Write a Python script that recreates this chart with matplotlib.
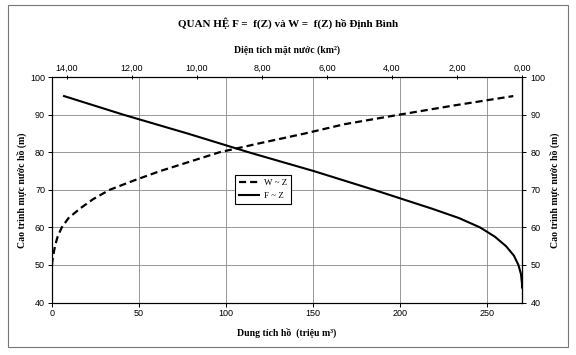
import numpy as np
import matplotlib
matplotlib.use("Agg")
import matplotlib.pyplot as plt
from matplotlib.patches import Rectangle
from matplotlib.ticker import FuncFormatter

# W ~ Z : dung tich ho (trieu m3) theo cao trinh
z_w = [50, 51, 52, 55, 57.5, 60, 62.5, 65, 67.5, 70, 72.5, 75, 77.5, 80, 82.5, 85, 87.5, 90, 92.5, 95]
w = [0, 0.2, 0.5, 1.7, 3.2, 5.6, 9.5, 16, 23.5, 33, 47, 62, 79, 96, 120, 145, 168, 199, 231, 265]

# F ~ Z : dien tich mat nuoc (km2) theo cao trinh
z_f = [44, 45, 47.5, 50, 52.5, 55, 57.5, 60, 62.5, 65, 70, 75, 80, 85, 90, 95]
f = [0.0, 0.0, 0.03, 0.11, 0.25, 0.49, 0.83, 1.29, 1.94, 2.77, 4.55, 6.40, 8.40, 10.28, 12.25, 14.09]

w_ticks = [0, 50, 100, 150, 200, 250]
f_ticks = [0, 2, 4, 6, 8, 10, 12, 14]
z_ticks = [40, 50, 60, 70, 80, 90, 100]

serif = "Liberation Serif"
sans = "Liberation Sans"
plt.rcParams["font.family"] = sans

fig = plt.figure(figsize=(5.76, 3.55), dpi=100)
fig.patches.append(Rectangle((8 / 576, 1 - 347 / 355), 560 / 576, 342 / 355,
                             transform=fig.transFigure, fill=False,
                             edgecolor="#777777", lw=0.8))

ax = fig.add_axes([52 / 576, 1 - 302.5 / 355, 470 / 576, 225.2 / 355])
ax.set_xlim(0, 270)
ax.set_ylim(40, 100)
ax.set_xticks(w_ticks)
ax.set_yticks(z_ticks)
ax.grid(True, color="#888888", lw=0.6)
ax.set_axisbelow(True)
ax.tick_params(labelsize=6.5, length=3, width=0.7, color="black", pad=2)
for s in ax.spines.values():
    s.set_color("black")
    s.set_linewidth(0.8)

lw_line, = ax.plot(w, z_w, color="black", lw=1.6, ls=(0, (3.2, 1.8)), label="W ~ Z")

ax2 = ax.twiny()
ax2.set_xlim(14.46, 0)
ax2.set_xticks(f_ticks)
ax2.xaxis.set_major_formatter(FuncFormatter(lambda v, p: f"{v:.2f}".replace(".", ",")))
ax2.tick_params(labelsize=6.5, length=3, width=0.7, pad=2, direction="inout")
lf_line, = ax2.plot(f, z_f, color="black", lw=1.5, label="F ~ Z")

ax3 = ax.secondary_yaxis("right")
ax3.set_yticks(z_ticks)
ax3.tick_params(labelsize=6.5, length=3, width=0.7, pad=3)
ax3.set_ylabel("Cao trình mực nước hồ (m)", fontfamily=serif, fontweight="bold",
               fontsize=7, labelpad=3)

ax.set_ylabel("Cao trình mực nước hồ (m)", fontfamily=serif, fontweight="bold",
              fontsize=7, labelpad=2)
ax.set_xlabel("Dung tích hồ  (triệu m³)", fontfamily=serif, fontweight="bold",
              fontsize=7, labelpad=7)
ax2.set_xlabel("Diện tích mặt nước (km²)", fontfamily=serif, fontweight="bold",
               fontsize=7, labelpad=8)

fig.text(0.5, 1 - 23 / 355, "QUAN HỆ F =  f(Z) và W =  f(Z) hồ Định Bình",
         ha="center", va="center", fontfamily=serif, fontweight="bold", fontsize=8)

leg = ax.legend(handles=[lw_line, lf_line], loc="upper left",
                bbox_to_anchor=(0.389, 0.566), fancybox=False, framealpha=1,
                edgecolor="black", prop={"family": serif, "size": 6.5},
                handlelength=2.2, handletextpad=0.6, borderpad=0.45,
                labelspacing=0.45, borderaxespad=0)
leg.get_frame().set_linewidth(0.8)
leg.set_zorder(5)

fig.savefig("out.png", dpi=100)
